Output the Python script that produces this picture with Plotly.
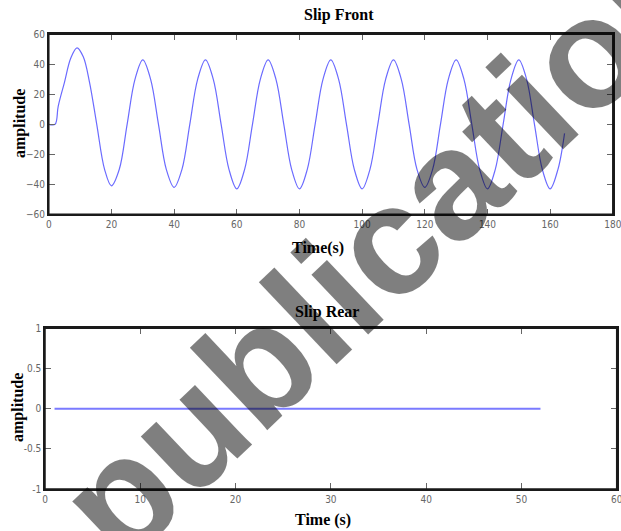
import plotly.graph_objects as go

# ---- data ----
x_front = [0, 2, 3, 5, 7, 9, 11, 13, 15.3, 17.8, 20,
           22.5, 25, 27.5, 30, 32.5, 35, 37.5, 40,
           42.5, 45, 47.5, 50, 52.5, 55, 57.5, 60,
           62.5, 65, 67.5, 70, 72.5, 75, 77.5, 80,
           82.5, 85, 87.5, 90, 92.5, 95, 97.5, 100,
           102.5, 105, 107.5, 110, 112.5, 115, 117.5, 120,
           122.5, 125, 127.5, 130, 132.5, 135, 137.5, 140,
           142.5, 145, 147.5, 150, 152.5, 155, 157.5, 160,
           162.5, 164.6]
y_front = [0, 0, 12, 28, 44, 51, 45, 28, 0, -30, -41,
           -30, 0, 30, 43, 30, 0, -30, -42,
           -30, 0, 30, 43, 30, 0, -30, -43,
           -30, 0, 30, 43, 30, 0, -30, -43,
           -30, 0, 30, 43, 30, 0, -30, -43,
           -30, 0, 30, 43, 30, 0, -30, -42,
           -30, 0, 30, 43, 30, 0, -30, -43,
           -30, 0, 30, 43, 30, 0, -30, -43,
           -30, -6]

x_rear = [1, 52]
y_rear = [0, 0]

front_xticks = [0, 20, 40, 60, 80, 100, 120, 140, 160, 180]
front_yticks = [-60, -40, -20, 0, 20, 40, 60]
rear_xticks = [0, 10, 20, 30, 40, 50, 60]
rear_yticks = [-1, -0.5, 0, 0.5, 1]
rear_ylabels = ["-1", "-0.5", "0", "0.5", "1"]

W, H = 621, 531

def px(x):
    return x / W

def py(y):
    return 1 - y / H

fig = go.Figure()
fig.add_trace(go.Scatter(x=x_front, y=y_front, mode="lines",
                         line=dict(color="#6b6bff", width=1.2, shape="spline"),
                         xaxis="x", yaxis="y", showlegend=False))
fig.add_trace(go.Scatter(x=x_rear, y=y_rear, mode="lines",
                         line=dict(color="#7a7aff", width=2),
                         xaxis="x2", yaxis="y2", showlegend=False))

tickfont = dict(family="Liberation Sans Narrow, DejaVu Sans Condensed, Arial Narrow, sans-serif",
                size=10, color="#666")
axis_common = dict(showline=True, linecolor="#1a1a1a", linewidth=1.5, mirror="allticks",
                   ticks="inside", ticklen=6, tickwidth=1, tickcolor="#666",
                   showgrid=False, zeroline=False, tickfont=tickfont,
                   ticklabeloverflow="allow")

fig.update_layout(
    width=W, height=H, autosize=False,
    margin=dict(l=0, r=0, t=0, b=0, autoexpand=False),
    paper_bgcolor="white", plot_bgcolor="white",
    xaxis=dict(domain=[px(48.8), px(612.8)], range=[0, 180], tickvals=front_xticks,
               anchor="y", **axis_common),
    yaxis=dict(domain=[py(214.3), py(34.3)], range=[-60, 60], tickvals=front_yticks,
               anchor="x", **axis_common),
    xaxis2=dict(domain=[px(45), px(616.7)], range=[0, 60], tickvals=rear_xticks,
                anchor="y2", **axis_common),
    yaxis2=dict(domain=[py(489), py(328.3)], range=[-1, 1], tickvals=rear_yticks,
                ticktext=rear_ylabels, anchor="x2", **axis_common),
)

# explicit frames around both axes boxes
for xr, yr in (("x domain", "y domain"), ("x2 domain", "y2 domain")):
    fig.add_shape(type="rect", xref=xr, yref=yr, x0=0, x1=1, y0=0, y1=1,
                  line=dict(color="#1a1a1a", width=1.5), fillcolor="rgba(0,0,0,0)",
                  layer="above")

serif = "Liberation Serif, Times New Roman, serif"
def label(text, x, y, angle=0, size=16):
    fig.add_annotation(text="<b>%s</b>" % text, x=px(x), y=py(y), xref="paper", yref="paper",
                       showarrow=False, textangle=angle, xanchor="center", yanchor="middle",
                       font=dict(family=serif, size=size, color="black"))

# watermark
fig.add_annotation(text="<b>publication</b>", x=px(386), y=py(243), xref="paper", yref="paper",
                   showarrow=False, textangle=-43.5, xanchor="center", yanchor="middle",
                   font=dict(family="Liberation Sans, Arial, sans-serif", size=156,
                             color="rgba(0,0,0,0.5)"))

label("Slip Front", 339, 15)
label("Time(s)", 318, 248)
label("amplitude", 20, 124, angle=-90)
label("Slip Rear", 327, 312)
label("Time (s)", 323, 520)
label("amplitude", 18, 408, angle=-90)

# remove the browser's default page margin so the figure fills the window exactly
fig.write_html("out.html", config={"displayModeBar": False},
               post_script="document.body.style.margin='0';document.body.style.overflow='hidden';")
